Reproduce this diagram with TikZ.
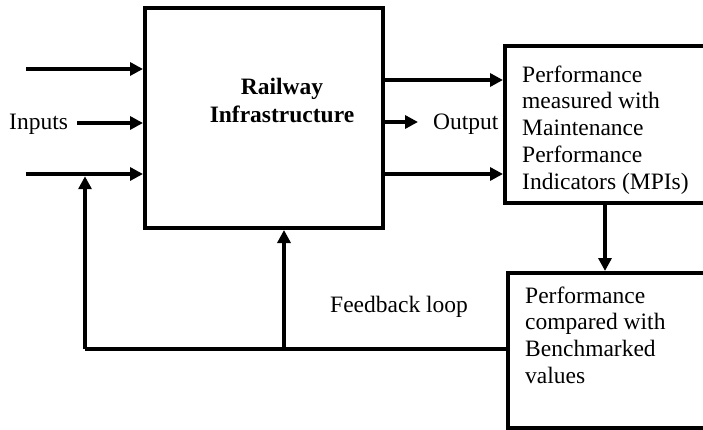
\documentclass[tikz,border=0pt]{standalone}
\usepackage{fontspec}
\setmainfont{Liberation Serif}
\usetikzlibrary{arrows.meta}
\begin{document}
\begin{tikzpicture}[x=1pt,y=1pt,
  every node/.style={font=\fontsize{23.5}{26.7}\selectfont, inner sep=0pt},
  box/.style={draw, line width=4pt, minimum width=#1},
  flow/.style={line width=4.5pt, -{Triangle[length=13pt,width=13pt]}},
  plain/.style={line width=4.5pt},
  lbl/.style={anchor=base west}]
\clip (0,0) rectangle (703,-430);

% blocks
\node[box=238pt, minimum height=220pt] (rail) at (264,-118) {};
\node[box=200pt, minimum height=157pt] (mpi) at (605,-124.5) {};
\node[box=198pt, minimum height=155pt] (bench) at (607,-350.5) {};

% block texts
\node[anchor=north, align=center, font=\fontsize{23.5}{28}\selectfont\bfseries] (railtxt) at (282,-78) {Railway\\Infrastructure};
\node[anchor=north west, align=left] (mpitxt) at (522,-65.5) {Performance\\measured with\\Maintenance\\Performance\\Indicators (MPIs)};
\node[anchor=north west, align=left] (benchtxt) at (525,-286.5) {Performance\\compared with\\Benchmarked\\values};

% free labels
\node[lbl] (inlbl) at (9,-130) {Inputs};
\node[lbl] (outlbl) at (433,-130) {Output};
\node[lbl] (fblbl) at (330,-312) {Feedback loop};

% inputs
\coordinate (in1) at (26,-69);
\coordinate (in2) at (77,-123);
\coordinate (in3) at (26,-174);
\draw[flow] (in1) -- (in1 -| rail.west);
\draw[flow] (in2) -- (in2 -| rail.west);
\draw[flow] (in3) -- (in3 -| rail.west);

% outputs
\coordinate (out1) at (383,-80);
\coordinate (out2) at (383,-122);
\coordinate (out3) at (383,-174);
\coordinate (out2end) at (418,-122);
\draw[flow] (out1 -| rail.east) -- (out1 -| mpi.west);
\draw[flow] (out2 -| rail.east) -- (out2end);
\draw[flow] (out3 -| rail.east) -- (out3 -| mpi.west);

% measured -> compared
\draw[flow] (mpi.south) -- (mpi.south |- bench.north);

% feedback loop
\coordinate (fbl) at (85,-349);
\coordinate (fbm) at (284,-349);
\draw[plain] (bench.west |- fbl) -- (fbl);
\draw[flow, shorten >=2.25pt] (fbl) -- (fbl |- in3);
\draw[flow] (fbm) -- (fbm |- rail.south);
\end{tikzpicture}
\end{document}
